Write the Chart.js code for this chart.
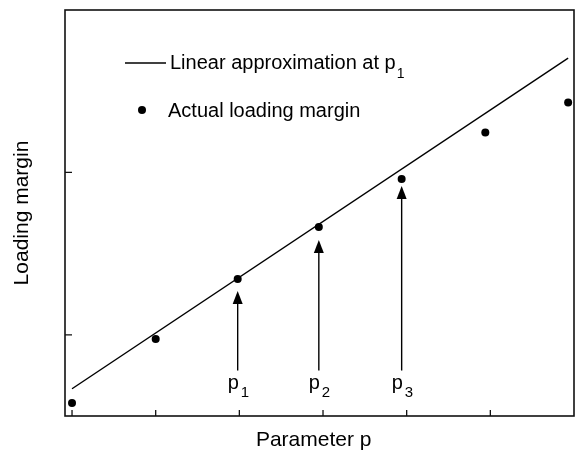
<!DOCTYPE html>
<html>
<head>
<meta charset="utf-8">
<script src="https://cdn.jsdelivr.net/npm/chart.js@4"></script>
<style>
  html, body { margin: 0; padding: 0; background: #fff; }
  #chart { display: block; }
</style>
</head>
<body>
<canvas id="chart" width="577" height="453"></canvas>
<script>
/* ============================================================
   DATA
============================================================ */
const paramP = [0, 1, 1.98, 2.95, 3.94, 4.94, 5.93];
const loadingMargin = [0.58, 0.974, 1.344, 1.664, 1.959, 2.246, 2.43];

// linear approximation at p1 (end points)
const approxP = [0, 5.93];
const approxMargin = [0.668, 2.704];

// arrows marking p1, p2, p3
const arrowP = [1.98, 2.95, 3.94];
const arrowTip = [1.27, 1.584, 1.916];
const arrowTail = 0.78;
const arrowSubs = ["1", "2", "3"];

const xTickValues = [0, 1, 2, 3, 4, 5];
const yTickValues = [1, 2];

const FONT = "'Liberation Sans', Arial, Helvetica, sans-serif";
const INK = "#000";

/* ============================================================
   FRAME, TICKS, ARROWS, LEGEND
============================================================ */
const decorPlugin = {
  id: "decor",
  afterDatasetsDraw(chart) {
    const { ctx, chartArea: a, scales } = chart;
    const xs = scales.x;
    const ys = scales.y;
    ctx.save();

    // frame
    ctx.strokeStyle = "#111";
    ctx.lineWidth = 1.6;
    ctx.strokeRect(a.left, a.top, a.right - a.left, a.bottom - a.top);

    // inward ticks
    ctx.lineWidth = 1.3;
    ctx.beginPath();
    xTickValues.forEach((v) => {
      const px = xs.getPixelForValue(v);
      ctx.moveTo(px, a.bottom);
      ctx.lineTo(px, a.bottom - 6);
    });
    yTickValues.forEach((v) => {
      const py = ys.getPixelForValue(v);
      ctx.moveTo(a.left, py);
      ctx.lineTo(a.left + 7, py);
    });
    ctx.stroke();

    // arrows + labels
    ctx.fillStyle = INK;
    ctx.strokeStyle = INK;
    arrowP.forEach((p, i) => {
      const px = xs.getPixelForValue(p);
      const tip = ys.getPixelForValue(arrowTip[i]);
      const tail = ys.getPixelForValue(arrowTail);
      ctx.lineWidth = 1.4;
      ctx.beginPath();
      ctx.moveTo(px, tail);
      ctx.lineTo(px, tip + 8);
      ctx.stroke();
      ctx.beginPath();
      ctx.moveTo(px, tip);
      ctx.lineTo(px - 5, tip + 13);
      ctx.lineTo(px + 5, tip + 13);
      ctx.closePath();
      ctx.fill();

      ctx.textBaseline = "alphabetic";
      ctx.textAlign = "left";
      ctx.font = `20px ${FONT}`;
      ctx.fillText("p", px - 10, 389);
      ctx.font = `15px ${FONT}`;
      ctx.fillText(arrowSubs[i], px + 3, 397);
    });

    // legend
    ctx.lineWidth = 1.3;
    ctx.beginPath();
    ctx.moveTo(125, 63);
    ctx.lineTo(166, 63);
    ctx.stroke();
    ctx.font = `20px ${FONT}`;
    const t1 = "Linear approximation at p";
    ctx.fillText(t1, 170, 69);
    const w1 = ctx.measureText(t1).width;
    ctx.font = `14px ${FONT}`;
    ctx.fillText("1", 170 + w1 + 1, 78);

    ctx.beginPath();
    ctx.arc(142, 110, 4, 0, Math.PI * 2);
    ctx.fill();
    ctx.font = `20px ${FONT}`;
    ctx.fillText("Actual loading margin", 168, 117);

    ctx.restore();
  },
};

/* ============================================================
   CHART
============================================================ */
new Chart(document.getElementById("chart"), {
  type: "scatter",
  data: {
    datasets: [
      {
        label: "Linear approximation at p1",
        type: "line",
        data: approxP.map((p, i) => ({ x: p, y: approxMargin[i] })),
        borderColor: INK,
        borderWidth: 1.4,
        pointRadius: 0,
        fill: false,
      },
      {
        label: "Actual loading margin",
        data: paramP.map((p, i) => ({ x: p, y: loadingMargin[i] })),
        backgroundColor: INK,
        borderColor: INK,
        pointRadius: 4,
        borderWidth: 0,
      },
    ],
  },
  options: {
    responsive: false,
    animation: false,
    devicePixelRatio: 1,
    layout: { padding: { top: 10, right: 3, bottom: 0, left: 0 }, autoPadding: false },
    plugins: {
      legend: { display: false },
      tooltip: { enabled: false },
    },
    scales: {
      x: {
        type: "linear",
        min: -0.084,
        max: 6,
        grid: { display: false },
        border: { display: false },
        ticks: { display: false },
        title: {
          display: true,
          text: "Parameter p  ",
          color: INK,
          font: { family: FONT, size: 21 },
          padding: { top: 0, bottom: 0 },
        },
        afterFit: (s) => { s.height = 37; },
      },
      y: {
        type: "linear",
        min: 0.5,
        max: 3,
        grid: { display: false },
        border: { display: false },
        ticks: { display: false },
        title: {
          display: true,
          text: "Loading margin",
          color: INK,
          font: { family: FONT, size: 21 },
          padding: { top: 10, bottom: 0 },
        },
        afterFit: (s) => { s.width = 65; },
      },
    },
  },
  plugins: [decorPlugin],
});
</script>
</body>
</html>
